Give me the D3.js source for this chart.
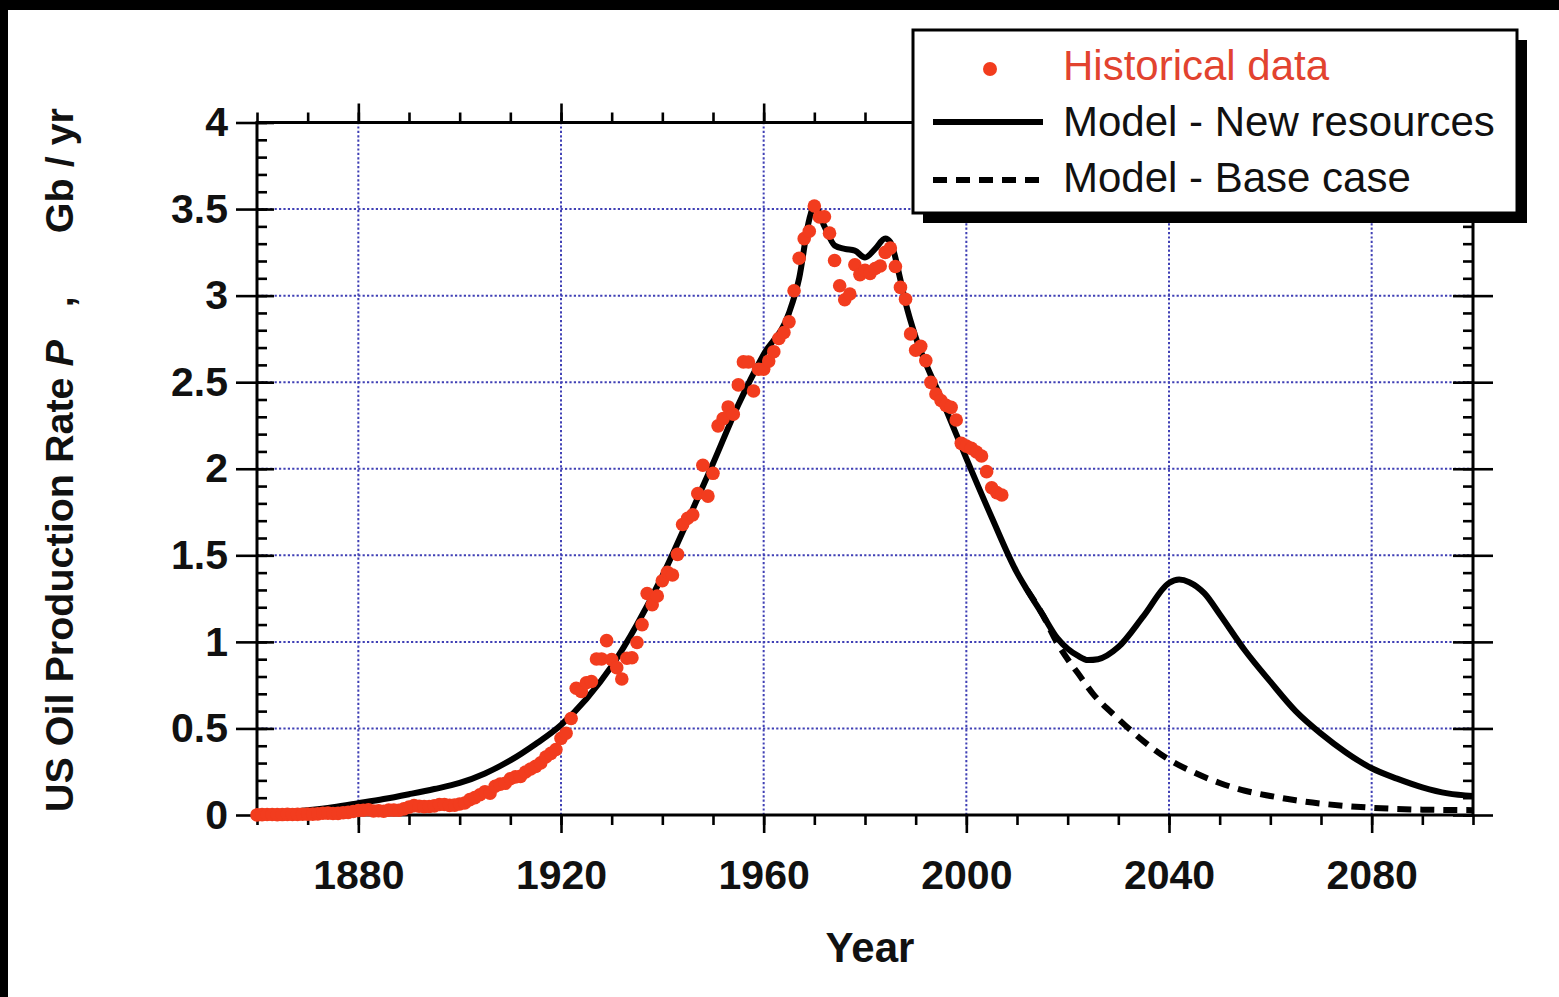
<!DOCTYPE html>
<html>
<head>
<meta charset="utf-8">
<script src="https://cdn.jsdelivr.net/npm/d3@7"></script>
<style>
  html, body { margin: 0; padding: 0; background: #fff; }
  svg { display: block; }
  .pre { white-space: pre; }
</style>
</head>
<body>
<svg id="chart" width="1559" height="997"></svg>
<script>
// ---- Data -------------------------------------------------------------
// Historical US crude oil production, Gb/yr, one value per year from 1860
const histStartYear = 1860;
const historical = [
  0.0005, 0.0021, 0.0031, 0.0026, 0.0021, 0.0025, 0.0036, 0.0033, 0.0036, 0.0042,
  0.0053, 0.0052, 0.0063, 0.0099, 0.0109, 0.0088, 0.0091, 0.0134, 0.0154, 0.0199,
  0.0263, 0.0277, 0.0303, 0.0234, 0.0242, 0.0219, 0.0281, 0.0283, 0.0276, 0.0352,
  0.0458, 0.0543, 0.0505, 0.0484, 0.0493, 0.0529, 0.0609, 0.0605, 0.0554, 0.0571,
  0.0636, 0.0694, 0.0888, 0.1005, 0.1171, 0.1347, 0.1265, 0.1661, 0.1785, 0.1832,
  0.2096, 0.2204, 0.2229, 0.2484, 0.2658, 0.2811, 0.3008, 0.3353, 0.3559, 0.3784,
  0.4429, 0.4722, 0.5575, 0.7324, 0.7139, 0.7637, 0.7709, 0.9011, 0.9015, 1.0073,
  0.8980, 0.8511, 0.7852, 0.9057, 0.9081, 0.9966, 1.0997, 1.2792, 1.2144, 1.2649,
  1.3532, 1.4022, 1.3866, 1.5056, 1.6779, 1.7137, 1.7339, 1.8569, 2.0202, 1.8419,
  1.9736, 2.2477, 2.2898, 2.3571, 2.3150, 2.4844, 2.6173, 2.6169, 2.4490, 2.5746,
  2.5749, 2.6218, 2.6762, 2.7527, 2.7868, 2.8485, 3.0278, 3.2157, 3.3290, 3.3718,
  3.5175, 3.4539, 3.4554, 3.3609, 3.2026, 3.0568, 2.9762, 3.0093, 3.1782, 3.1213,
  3.1464, 3.1286, 3.1567, 3.1709, 3.2497, 3.2746, 3.1683, 3.0474, 2.9791, 2.7788,
  2.6847, 2.7070, 2.6246, 2.4990, 2.4315, 2.3943, 2.3660, 2.3548, 2.2819, 2.1467,
  2.1307, 2.1175, 2.0971, 2.0735, 1.9833, 1.8901, 1.8623, 1.8485
];

// Model with new resources (solid curve)
const modelYears = [
  1860, 1865, 1870, 1875, 1880, 1885, 1890, 1895, 1900, 1905, 1910, 1915, 1920,
  1925, 1930, 1935, 1940, 1945, 1950, 1955, 1960, 1965, 1967, 1969, 1970, 1972,
  1974, 1976, 1978, 1980, 1982, 1984, 1985, 1987, 1988, 1990, 1993, 1995, 1998,
  2000, 2005, 2010, 2012, 2015, 2018, 2020, 2022, 2024, 2026, 2030, 2035, 2040,
  2042, 2044, 2047, 2050, 2055, 2060, 2065, 2070, 2075, 2080, 2085, 2090, 2095, 2100
];
const modelNew = [
  0.000, 0.012, 0.027, 0.045, 0.068, 0.092, 0.120, 0.150, 0.185, 0.240, 0.315, 0.410, 0.520,
  0.670, 0.860, 1.100, 1.380, 1.700, 2.030, 2.370, 2.660, 2.900, 3.100, 3.440, 3.520, 3.400,
  3.290, 3.270, 3.260, 3.220, 3.270, 3.330, 3.310, 3.090, 2.960, 2.760, 2.540, 2.410, 2.200,
  2.060, 1.720, 1.400, 1.300, 1.160, 1.020, 0.960, 0.920, 0.895, 0.900, 0.970, 1.150, 1.340,
  1.360, 1.345, 1.280, 1.160, 0.950, 0.770, 0.600, 0.470, 0.360, 0.270, 0.210, 0.160, 0.125, 0.110
];

// Base-case model, shown where it departs from the new-resources curve
const baseYears = [
  2012, 2015, 2018, 2020, 2022, 2025, 2030, 2035, 2040, 2045, 2050, 2055,
  2060, 2065, 2070, 2075, 2080, 2085, 2090, 2095, 2100
];
const baseCase = [
  1.300, 1.160, 0.990, 0.900, 0.820, 0.700, 0.555, 0.425, 0.320, 0.245, 0.185, 0.140,
  0.110, 0.085, 0.066, 0.052, 0.042, 0.035, 0.031, 0.029, 0.028
];

const xTickLabels = [1880, 1920, 1960, 2000, 2040, 2080];
const yTickLabels = [0, 0.5, 1, 1.5, 2, 2.5, 3, 3.5, 4];

const legendLabels = ["Historical data", "Model - New resources", "Model - Base case"];

// ---- Drawing ----------------------------------------------------------
const svg = d3.select("#chart");
const W = 1559, H = 997;
const FONT = "'Liberation Sans', Arial, Helvetica, sans-serif";
const RED = "#f23c1e";

svg.append("rect").attr("width", W).attr("height", H).attr("fill", "#fff");

const x = d3.scaleLinear().domain([1860, 2100]).range([257, 1473]);
const y = d3.scaleLinear().domain([0, 4]).range([815, 122.5]);

// dotted blue grid
const grid = svg.append("g")
  .attr("stroke", "#2c2cae").attr("stroke-width", 2)
  .attr("stroke-dasharray", "2.2,2.2").attr("opacity", 0.9);
grid.selectAll("line.gx").data(xTickLabels).join("line")
  .attr("class", "gx")
  .attr("x1", d => x(d)).attr("x2", d => x(d))
  .attr("y1", y(0)).attr("y2", y(4));
grid.selectAll("line.gy").data(yTickLabels.filter(v => v > 0 && v < 4)).join("line")
  .attr("class", "gy")
  .attr("x1", x(1860)).attr("x2", x(2100))
  .attr("y1", d => y(d)).attr("y2", d => y(d));

// axes
const minorX = d3.range(1860, 2101, 10);
const minorY = d3.range(0, 41).map(i => i / 10);

function styleTicks(g) {
  g.select(".domain").remove();
  g.selectAll(".tick line").attr("stroke", "#000").attr("stroke-width", 2.6);
}
function styleLabels(g) {
  g.selectAll(".tick text")
    .attr("fill", "#111")
    .attr("font-family", FONT)
    .attr("font-weight", "bold")
    .attr("font-size", 41);
}

// bottom
svg.append("g").attr("transform", `translate(0,${y(0)})`)
  .call(d3.axisBottom(x).tickValues(minorX).tickSize(10).tickFormat(""))
  .call(styleTicks);
svg.append("g").attr("transform", `translate(0,${y(0)})`)
  .call(d3.axisBottom(x).tickValues(xTickLabels).tickSize(18).tickPadding(27).tickFormat(d3.format("d")))
  .call(styleTicks).call(styleLabels);
// top
svg.append("g").attr("transform", `translate(0,${y(4)})`)
  .call(d3.axisTop(x).tickValues(minorX).tickSize(10).tickFormat(""))
  .call(styleTicks);
svg.append("g").attr("transform", `translate(0,${y(4)})`)
  .call(d3.axisTop(x).tickValues(xTickLabels).tickSize(19).tickFormat(""))
  .call(styleTicks);
// left
svg.append("g").attr("transform", `translate(${x(1860)},0)`)
  .call(d3.axisLeft(y).tickValues(minorY).tickSize(-10).tickFormat(""))
  .call(styleTicks);
svg.append("g").attr("transform", `translate(${x(1860)},0)`)
  .call(d3.axisLeft(y).tickValues(yTickLabels).tickSize(-17).tickFormat(""))
  .call(styleTicks);
svg.append("g").attr("transform", `translate(${x(1860)},0)`)
  .call(d3.axisLeft(y).tickValues(yTickLabels).tickSize(21).tickPadding(8).tickFormat(d => String(d)))
  .call(styleTicks).call(styleLabels);
// right
svg.append("g").attr("transform", `translate(${x(2100)},0)`)
  .call(d3.axisRight(y).tickValues(minorY).tickSize(-10).tickFormat(""))
  .call(styleTicks);
svg.append("g").attr("transform", `translate(${x(2100)},0)`)
  .call(d3.axisRight(y).tickValues(yTickLabels).tickSize(-20).tickFormat(""))
  .call(styleTicks);
svg.append("g").attr("transform", `translate(${x(2100)},0)`)
  .call(d3.axisRight(y).tickValues(yTickLabels).tickSize(20).tickFormat(""))
  .call(styleTicks);

// plot frame
svg.append("rect")
  .attr("x", x(1860)).attr("y", y(4))
  .attr("width", x(2100) - x(1860)).attr("height", y(0) - y(4))
  .attr("fill", "none").attr("stroke", "#000").attr("stroke-width", 3);

// model curves
const line = d3.line()
  .x(d => x(d[0])).y(d => y(d[1]))
  .curve(d3.curveMonotoneX);

svg.append("path")
  .datum(baseYears.map((yr, i) => [yr, baseCase[i]]))
  .attr("d", line)
  .attr("fill", "none").attr("stroke", "#000")
  .attr("stroke-width", 6).attr("stroke-dasharray", "14,9");

svg.append("path")
  .datum(modelYears.map((yr, i) => [yr, modelNew[i]]))
  .attr("d", line)
  .attr("fill", "none").attr("stroke", "#000")
  .attr("stroke-width", 6).attr("stroke-linejoin", "round");

// historical points
svg.append("g").selectAll("circle")
  .data(historical.map((v, i) => [histStartYear + i, v]))
  .join("circle")
  .attr("cx", d => x(d[0])).attr("cy", d => y(d[1]))
  .attr("r", 6.8).attr("fill", RED);

// axis titles
svg.append("text")
  .attr("x", 870).attr("y", 962)
  .attr("text-anchor", "middle")
  .attr("font-family", FONT).attr("font-weight", "bold").attr("font-size", 42)
  .attr("fill", "#111")
  .text("Year");

const yTitle = svg.append("text")
  .attr("class", "pre")
  .attr("transform", "translate(73,812) rotate(-90)")
  .attr("font-family", FONT).attr("font-weight", "bold").attr("font-size", 39.5)
  .attr("fill", "#111");
yTitle.append("tspan").text("US Oil Production Rate ");
yTitle.append("tspan").attr("font-style", "italic").text("P");
yTitle.append("tspan").text("   ,");

svg.append("text")
  .attr("transform", "translate(73,108) rotate(-90)")
  .attr("text-anchor", "end")
  .attr("font-family", FONT).attr("font-weight", "bold").attr("font-size", 39.5)
  .attr("fill", "#111")
  .text("Gb / yr");

// legend
const lg = svg.append("g");
lg.append("rect").attr("x", 923).attr("y", 40).attr("width", 604).attr("height", 183).attr("fill", "#000");
lg.append("rect").attr("x", 913).attr("y", 30).attr("width", 604).attr("height", 183)
  .attr("fill", "#fff").attr("stroke", "#000").attr("stroke-width", 3);

lg.append("circle").attr("cx", 990).attr("cy", 69).attr("r", 7).attr("fill", RED);
lg.append("line").attr("x1", 933).attr("x2", 1043).attr("y1", 122).attr("y2", 122)
  .attr("stroke", "#000").attr("stroke-width", 6);
lg.append("line").attr("x1", 933).attr("x2", 1043).attr("y1", 180).attr("y2", 180)
  .attr("stroke", "#000").attr("stroke-width", 6).attr("stroke-dasharray", "14,9");

lg.selectAll("text.lab").data(legendLabels).join("text")
  .attr("class", "lab")
  .attr("x", 1063).attr("y", (d, i) => 80 + i * 56)
  .attr("font-family", FONT).attr("font-size", 42)
  .attr("fill", (d, i) => i === 0 ? "#e2432f" : "#111")
  .text(d => d);

// dark frame along the top and left edges
svg.append("rect").attr("x", 0).attr("y", 0).attr("width", W).attr("height", 10).attr("fill", "#000");
svg.append("rect").attr("x", 0).attr("y", 0).attr("width", 8).attr("height", H).attr("fill", "#000");
</script>
</body>
</html>
